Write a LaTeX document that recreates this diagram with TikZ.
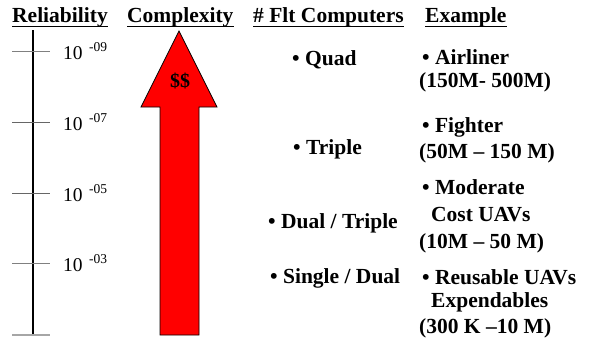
\documentclass[tikz,border=0pt]{standalone}
\usepackage{fontspec}
\setmainfont{Liberation Serif}
\begin{document}
\begin{tikzpicture}[x=1pt,y=-1pt,
  txt/.style={font=\fontsize{21.5}{21.5}\selectfont\bfseries, inner sep=0pt, anchor=base west},
  num/.style={font=\fontsize{19.5}{19.5}\selectfont, inner sep=0pt, anchor=base west},
  supnum/.style={font=\fontsize{13.5}{13.5}\selectfont, inner sep=0pt, anchor=base west},
  tickline/.style={draw=gray, line width=1pt},
  uline/.style={line width=1.5pt}]
\useasboundingbox (0,0) rectangle (591,341);
% headers
\node[txt] (h1) at (12,22) {Reliability};
\node[txt] (h2) at (127,22) {Complexity};
\node[txt] (h3) at (253,22) {\# Flt Computers};
\node[txt] (h4) at (425,22) {Example};
\foreach \h in {h1,h2,h3,h4}
  \draw[uline] ([yshift=-4.5pt]\h.base west) -- ([yshift=-4.5pt]\h.base east);
% axis
\coordinate (atop) at (33,30);
\coordinate (abot) at (33,335);
\draw[line width=2.5pt] (atop) -- (abot);
\draw[tickline] (12,51) -- (50,51);
\draw[tickline, draw=gray!80!black] (12,122) -- (50,122);
\draw[tickline, draw=gray!80!black] (12,193) -- (50,193);
\draw[tickline] (12,263) -- (50,263);
\draw[tickline, line width=2pt, draw=gray!70] (12,335) -- (50,335);
% labels
\node[num] (n9) at (63,59) {10};
\node[supnum] (s9) at (89,51) {-09};
\node[num] (n7) at (63,130) {10};
\node[supnum] (s7) at (89,122) {-07};
\node[num] (n5) at (63,201) {10};
\node[supnum] (s5) at (89,193) {-05};
\node[num] (n3) at (63,271) {10};
\node[supnum] (s3) at (89,263) {-03};
% arrow
\draw[fill=red, line width=0.8pt, line join=miter]
  (179,31) -- (217,107) -- (199,107) -- (199,335) -- (160,335) -- (160,107) -- (141,107) -- cycle;
\node[font=\fontsize{20}{20}\selectfont\bfseries, inner sep=0pt] (dd) at (180,81) {\$\$};
% computers
\node[txt] (c1) at (292,65) {• Quad};
\node[txt] (c2) at (293,154) {• Triple};
\node[txt] (c3) at (268,228) {• Dual / Triple};
\node[txt] (c4) at (270,283) {• Single / Dual};
% examples
\node[txt] (e1a) at (422,64) {• Airliner};
\node[txt] (e1b) at (419,87) {(150M- 500M)};
\node[txt] (e2a) at (422,132) {• Fighter};
\node[txt] (e2b) at (419,158) {(50M – 150 M)};
\node[txt] (e3a) at (422,194) {• Moderate};
\node[txt] (e3b) at (431,221) {Cost UAVs};
\node[txt] (e3c) at (419,248) {(10M – 50 M)};
\node[txt] (e4a) at (422,284) {• Reusable UAVs};
\node[txt] (e4b) at (431,307) {Expendables};
\node[txt] (e4c) at (419,333) {(300 K –10 M)};
\end{tikzpicture}
\end{document}
